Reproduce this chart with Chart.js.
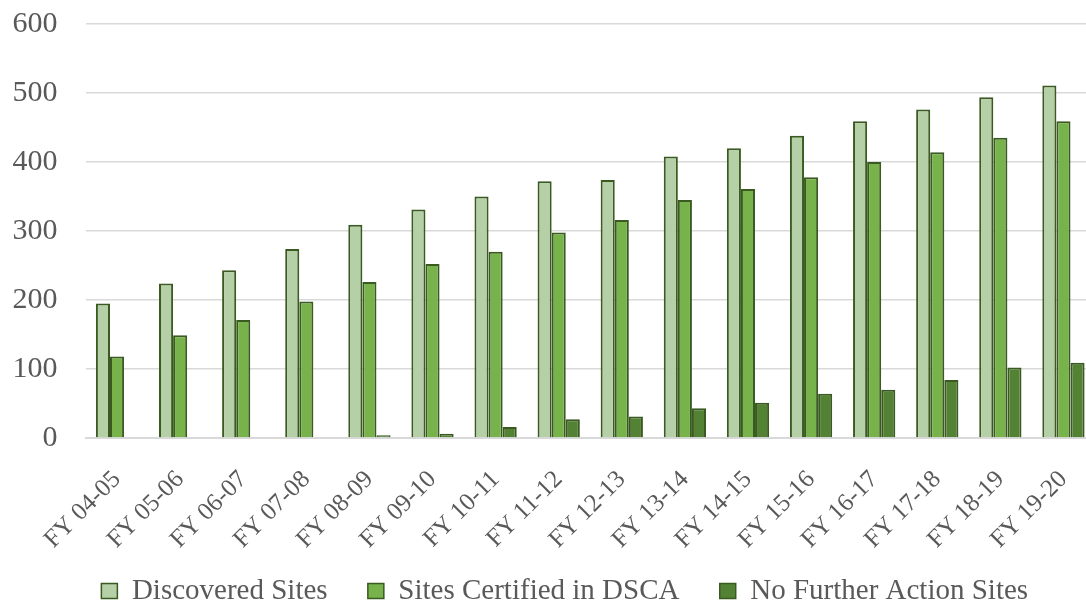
<!DOCTYPE html>
<html>
<head>
<meta charset="utf-8">
<script src="https://cdn.jsdelivr.net/npm/chart.js@4/dist/chart.umd.min.js"></script>
<style>
html,body{margin:0;padding:0;background:#fff;overflow:hidden;}
#wrap{width:1095px;height:604px;position:relative;}
</style>
</head>
<body>
<div id="wrap"><canvas id="c"></canvas></div>
<script>
const categories = ["FY 04-05","FY 05-06","FY 06-07","FY 07-08","FY 08-09","FY 09-10","FY 10-11","FY 11-12","FY 12-13","FY 13-14","FY 14-15","FY 15-16","FY 16-17","FY 17-18","FY 18-19","FY 19-20"];
const discoveredSites = [195,224,243,274,309,331,350,372,374,408,420,438,459,476,494,511];
const certifiedSites  = [118,149,171,198,226,252,270,298,316,345,361,378,400,414,435,459];
const noFurtherAction = [0,0,0,0,4,6,16,27,31,43,51,64,70,84,102,109];
const yTicks = [0,100,200,300,400,500,600];

const font = "Liberation Serif";
const border = '#3a5a22';
const legendGap = '     ';

function draw() {
new Chart(document.getElementById('c'), {
  type: 'bar',
  data: {
    labels: categories,
    datasets: [
      {label:'Discovered Sites', data: discoveredSites, backgroundColor:'#b5cfa6', borderColor: border, borderWidth:2},
      {label:'Sites Certified in DSCA', data: certifiedSites, backgroundColor:'#77b24b', borderColor: border, borderWidth:2},
      {label:'No Further Action Sites', data: noFurtherAction, backgroundColor:'#548235', borderColor: border, borderWidth:2}
    ]
  },
  options: {
    responsive: true,
    maintainAspectRatio: false,
    animation: false,
    layout: {padding: {top: 24, right: 0, bottom: -11.5, left: 0}},
    datasets: {bar: {categoryPercentage: 0.67, barPercentage: 1.0}},
    plugins: {
      legend: {
        position: 'bottom',
        labels: {
          font: {family: font, size: 29},
          color: '#595959',
          boxWidth: 16, boxHeight: 15,
          padding: 4,
          generateLabels: (chart) => {
            const items = Chart.defaults.plugins.legend.labels.generateLabels(chart);
            items.forEach((it, i) => {
              it.lineWidth = 1.5;
              if (i < items.length - 1) it.text = it.text + legendGap;
            });
            items.unshift({text: '', fillStyle: 'rgba(0,0,0,0)', strokeStyle: 'rgba(0,0,0,0)', lineWidth: 0, hidden: false, datasetIndex: -1});
            return items;
          }
        }
      },
      tooltip: {enabled: false}
    },
    scales: {
      x: {
        grid: {display: false},
        border: {display: true, color: '#d9d9d9', width: 2},
        afterFit: (s) => { s.height = 134.5; s.paddingLeft = 0; s.paddingRight = 0; },
        ticks: {font: {family: font, size: 25}, color: '#595959', minRotation: 45, maxRotation: 45, padding: 19}
      },
      y: {
        min: 0, max: 600,
        afterBuildTicks: (s) => { s.ticks = yTicks.map(v => ({value: v})); },
        afterFit: (s) => { s.width = 85.5; s.paddingTop = 0; s.paddingBottom = 0; },
        grid: {color: '#d9d9d9', lineWidth: 1.5, drawTicks: false},
        border: {display: false},
        ticks: {font: {family: font, size: 30}, color: '#595959', padding: 28}
      }
    }
  }
});
}
Promise.all([
  document.fonts.load('29px "Liberation Serif"'),
  document.fonts.load('25px "Liberation Serif"')
]).then(draw, draw);
</script>
</body>
</html>
